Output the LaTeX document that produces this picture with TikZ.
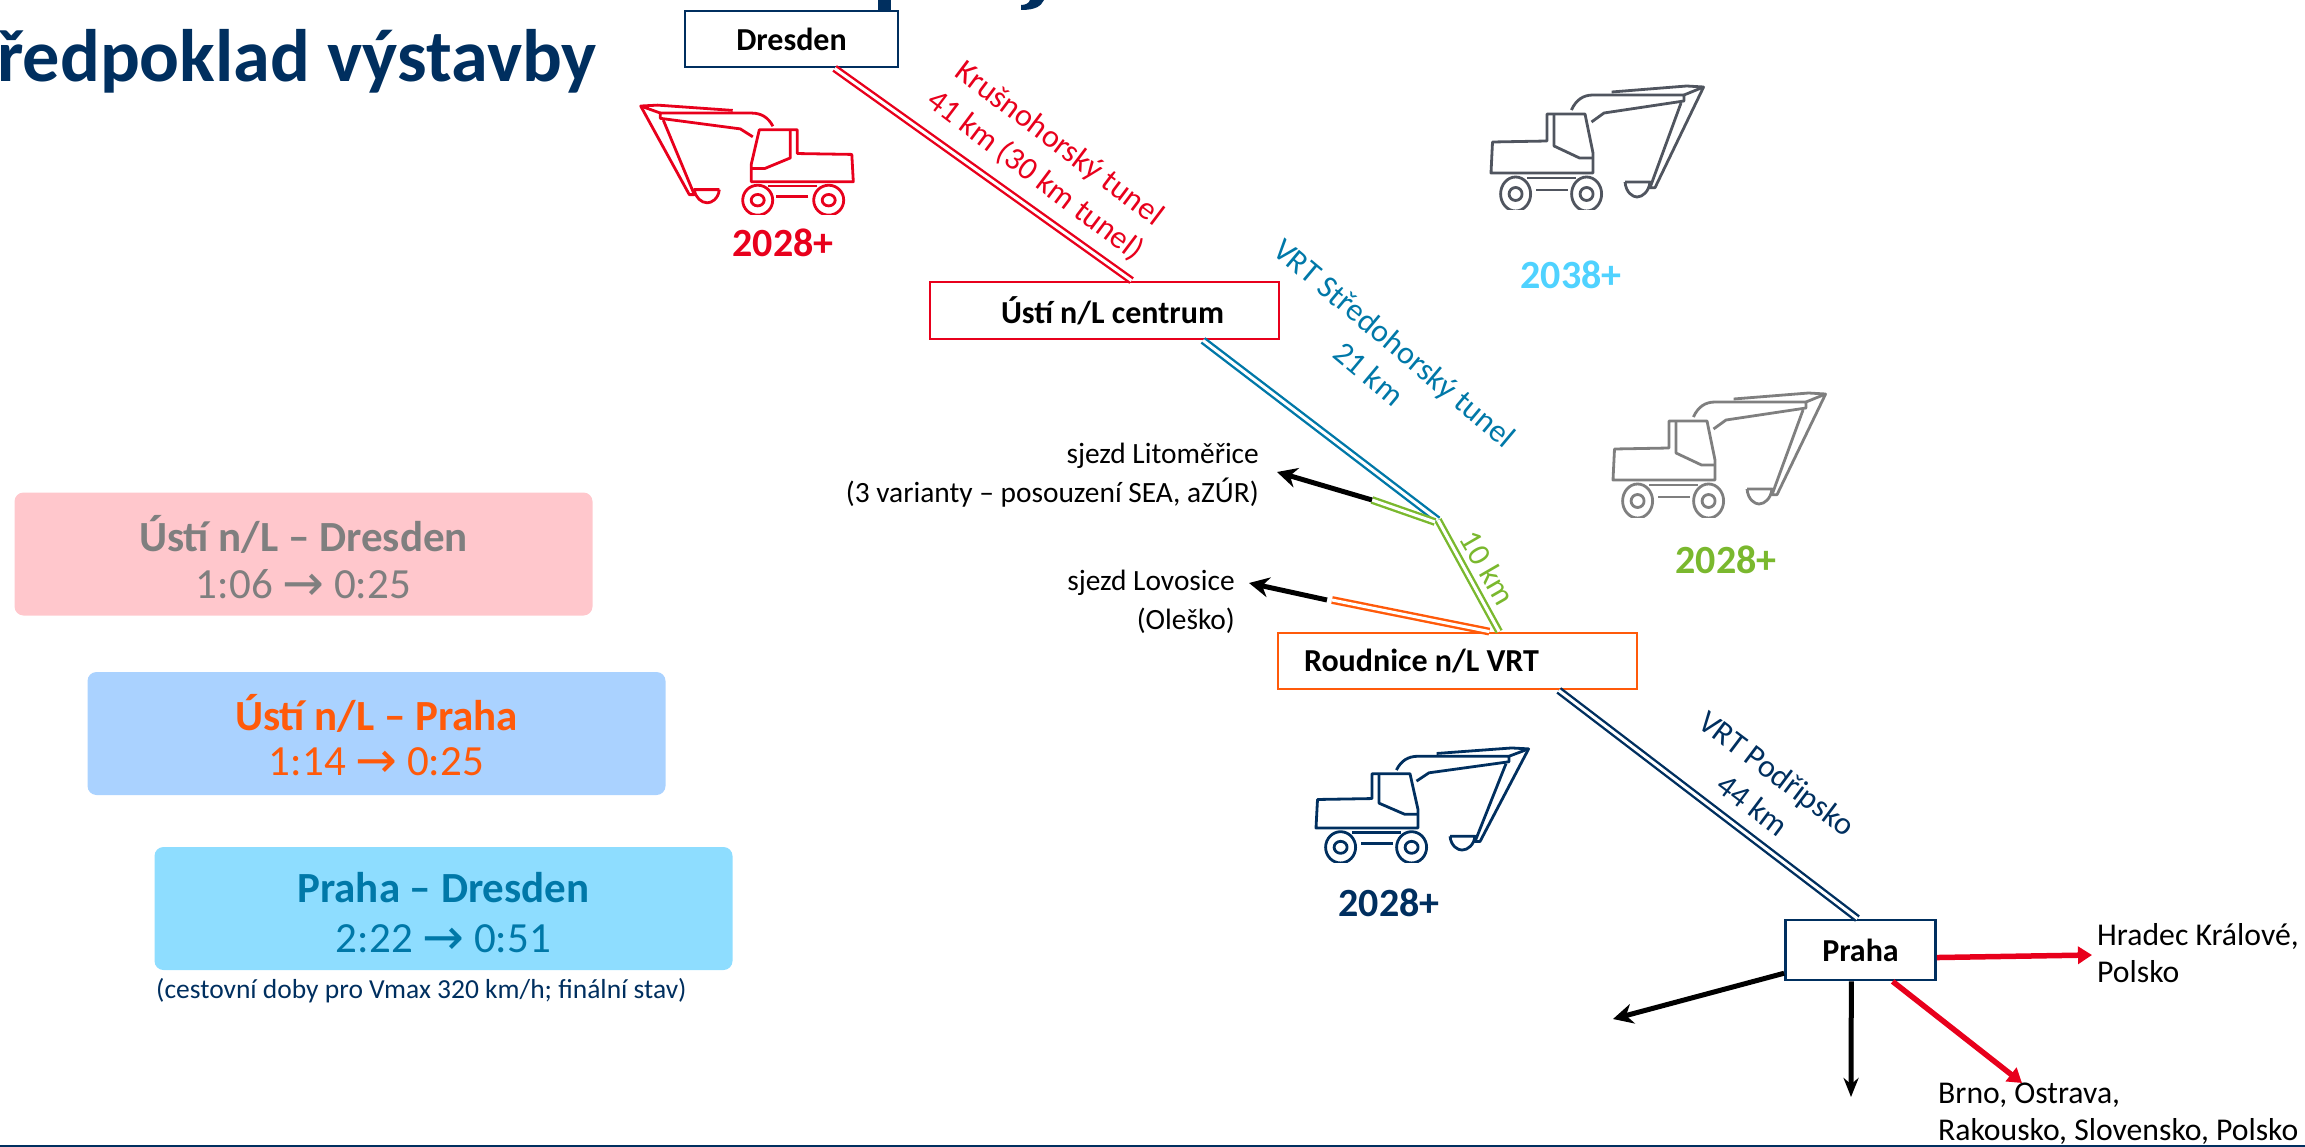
\documentclass[tikz,border=0pt]{standalone}
\usepackage{fontspec}
\setmainfont{Carlito}
\newfontfamily\arrowfont{DejaVu Sans}
\usetikzlibrary{arrows.meta,calc}
\definecolor{navy}{HTML}{002F5F}
\definecolor{vred}{HTML}{E8001C}
\definecolor{vorange}{HTML}{FF5A0A}
\definecolor{vgreen}{HTML}{7AB82E}
\definecolor{vblue}{HTML}{0078A8}
\definecolor{vsky}{HTML}{4FD2FF}
\definecolor{gdark}{HTML}{50555F}
\definecolor{gmid}{HTML}{7F7F7F}
\definecolor{boxpink}{HTML}{FFC7CC}
\definecolor{boxblue}{HTML}{AAD2FF}
\definecolor{boxsky}{HTML}{8EDDFF}
\newcommand{\arr}{{\arrowfont\fontsize{50}{50}\selectfont\raisebox{-2pt}{→}}}
\tikzset{
  x=1pt,y=-1pt,
  stationbox/.style={draw=#1,line width=2.8pt,fill=white,inner sep=0pt,font=\fontsize{32}{37}\selectfont\bfseries,text=black},
  track/.style={draw=#1,double=white,double distance=3pt,line width=2.4pt,line cap=butt},
  thickarrow/.style={draw=black,line width=5pt,-{Stealth[length=20pt,width=20pt]}},
  redarrow/.style={draw=vred,line width=5.5pt,-{Triangle[length=14pt,width=17pt]}},
  sidelabel/.style={inner sep=0pt,font=\fontsize{29.4}{39}\selectfont,text=black},
  citylabel/.style={inner sep=0pt,font=\fontsize{31.7}{37}\selectfont,text=black},
  slanted/.style={inner sep=0pt,align=center,font=\fontsize{32}{40}\selectfont,text=#1},
  yearlabel/.style={inner sep=0pt,font=\fontsize{40}{46}\selectfont\bfseries,text=#1},
  timebox/.style={fill=#1,rounded corners=9pt,inner sep=0pt,minimum width=578pt,minimum height=123pt},
  timehead/.style={inner sep=0pt,font=\fontsize{43}{50}\selectfont\bfseries,text=#1},
  timeval/.style={inner sep=0pt,font=\fontsize{43}{50}\selectfont,text=#1},
  excavator/.pic={
    \begin{scope}[line width=2.8pt,line join=round,draw=#1]
      \draw (1.5,-31) -- (56,-32) -- (56,-59) -- (94,-59) -- (102,-20) -- (102,0) -- (0,0) -- cycle;
      \draw (63,-58) -- (63,-27) -- (88.5,-15) -- (102,-15);
      \draw (36,5) -- (85,5);
      \draw (45,17) -- (77,17);
      \begin{scope}
        \clip (0,0) rectangle (120,37);
        \draw (24.6,21) ellipse [x radius=15,y radius=17];
        \draw (95.6,21) ellipse [x radius=15,y radius=17];
      \end{scope}
      \draw (24.6,21) circle [radius=6.5];
      \draw (95.6,21) circle [radius=6.5];
      \draw (80.4,-63) .. controls (85,-73) and (92,-78) .. (102,-78) -- (193,-78) -- (193,-72) -- (113,-60) -- (100.5,-51);
      \draw (120.6,-81) -- (195.6,-87) -- (212.6,-86) -- (193,-78);
      \draw (212.6,-86) -- (164,14.7) -- (159,14.7) -- (190,-70);
      \draw (134,9) -- (159,9) .. controls (158,18) and (152,24) .. (146,24) .. controls (142,24) and (135,20) .. (134,9);
    \end{scope}
  }
}
\begin{document}
\begin{tikzpicture}
\useasboundingbox (0,0) rectangle (2305,1147);

% title
\node[anchor=base west,inner sep=0pt,font=\fontsize{74.3}{85}\selectfont\bfseries,text=navy] (title) at (-3,82) {ředpoklad výstavby};
\fill[navy] (878,0) rectangle (891,10);
\fill[navy] (1030,0) -- (1044,0) .. controls (1041,6) and (1036,10) .. (1021,10) -- (1021,5) .. controls (1026,5) and (1029,3) .. (1030,0) -- cycle;

% time boxes
\node[timebox=boxpink] (t1) at (303.5,554) {};
\node[timehead=gmid] (t1a) at (303.5,534) {Ústí n/L – Dresden};
\node[timeval=gmid] (t1b) at (303.5,585) {1:06 \arr\ 0:25};
\node[timebox=boxblue] (t2) at (376.5,733.5) {};
\node[timehead=vorange] (t2a) at (376.5,713) {Ústí n/L – Praha};
\node[timeval=vorange] (t2b) at (376.5,763) {1:14 \arr\ 0:25};
\node[timebox=boxsky] (t3) at (443.5,908.5) {};
\node[timehead=vblue] (t3a) at (443.5,888) {Praha – Dresden};
\node[timeval=vblue] (t3b) at (443.5,940) {2:22 \arr\ 0:51};
\node[anchor=west,inner sep=0pt,font=\fontsize{27.5}{34}\selectfont,text=navy] (note) at (156,991) {(cestovní doby pro Vmax 320 km/h; finální stav)};

% stations
\node[stationbox=navy,minimum width=213pt,minimum height=56pt] (dresden) at (791.5,39) {\raisebox{-1pt}{Dresden}};
\node[stationbox=vred,minimum width=349pt,minimum height=57pt] (usti) at (1104.5,310.5) {\hspace*{16pt}\raisebox{-5pt}{Ústí n/L centrum}};
\node[stationbox=vorange,minimum width=359pt,minimum height=56pt] (roudnice) at (1457.5,661) {\raisebox{-6pt}{Roudnice n/L VRT}\hspace*{72pt}};
\node[stationbox=navy,minimum width=150pt,minimum height=60pt] (praha) at (1860.5,950) {Praha};

% junctions and free ends
\coordinate (j) at (1438,520);
\coordinate (litend) at (1372,500);
\coordinate (lovend) at (1332,600);
\coordinate (litstart) at (1435,522);

% tracks
\draw[track=vred] ($(dresden.south west)!.70!(dresden.south east)$) -- ($(usti.north west)!.577!(usti.north east)$);
\draw[track=vblue] ($(usti.south west)!.78!(usti.south east)$) -- (j);
\draw[track=vgreen] (j) -- ($(roudnice.north west)!.615!(roudnice.north east)$);
\draw[track=vgreen] (litstart) -- (litend);
\draw[track=vorange] ($(roudnice.north west)!.588!(roudnice.north east)$) -- (lovend);
\draw[track=navy] ($(roudnice.south west)!.78!(roudnice.south east)$) -- ($(praha.north west)!.48!(praha.north east)$);

% arrows
\coordinate (litarrow) at (1277,472);
\coordinate (lovarrow) at (1249,583);
\coordinate (lovstart) at (1327,600);
\draw[thickarrow] (litend) -- (litarrow);
\draw[thickarrow] (lovstart) -- (lovarrow);
\coordinate (hk) at (2092,955);
\coordinate (brno) at (2022,1083);
\coordinate (south) at (1851,1097);
\coordinate (west) at (1613,1019);
\draw[redarrow] ($(praha.north east)!.62!(praha.south east)$) -- (hk);
\draw[redarrow] ($(praha.south west)!.71!(praha.south east)$) -- (brno);
\draw[draw=black,line width=5pt,-{Stealth[length=19pt,width=15pt]}] ($(praha.south west)!.44!(praha.south east)$) -- (south);
\draw[thickarrow] ($(praha.north west)!.87!(praha.south west)$) -- (west);

% slanted labels
\node[slanted=vred,rotate=-37] (lab1) at (1047,160) {Krušnohorský tunel\\41 km (30 km tunel)};
\node[slanted=vblue,rotate=-40] (lab2) at (1382,358) {VRT Středohorský tunel\\21 km};
\node[slanted=vgreen,rotate=-60] (lab3) at (1488,568) {10 km};
\node[slanted=navy,rotate=-37] (lab4) at (1765,789) {VRT Podřipsko\\44 km};

% plain labels
\node[sidelabel,align=right,anchor=east] (lit) at (1259,475) {sjezd Litoměřice\\(3 varianty – posouzení SEA, aZÚR)};
\node[sidelabel,align=right,anchor=east] (lov) at (1235,602) {sjezd Lovosice\\(Oleško)};
\node[citylabel,align=left,anchor=west] (hklab) at (2097,953) {Hradec Králové,\\Polsko};
\node[citylabel,align=left,anchor=west] (brnolab) at (1938,1114) {Brno, Ostrava,\\Rakousko, Slovensko, Polsko};

% excavators
\pic at (1491,173) {excavator=gdark};
\pic at (1613,480) {excavator=gmid};
\pic[yscale=.92] at (1316,828) {excavator=navy};
\pic[xscale=-1,yscale=.88] at (853.3,181.7) {excavator=vred};

% years
\node[yearlabel=vred] (y1) at (783,243) {2028+};
\node[yearlabel=vsky] (y2) at (1571,275) {2038+};
\node[yearlabel=vgreen] (y3) at (1726,560) {2028+};
\node[yearlabel=navy] (y4) at (1389,903) {2028+};

% bottom rule
\coordinate (bl) at (0,1146);
\coordinate (br) at (2305,1146);
\draw[navy,line width=2pt] (bl) -- (br);
\end{tikzpicture}
\end{document}
